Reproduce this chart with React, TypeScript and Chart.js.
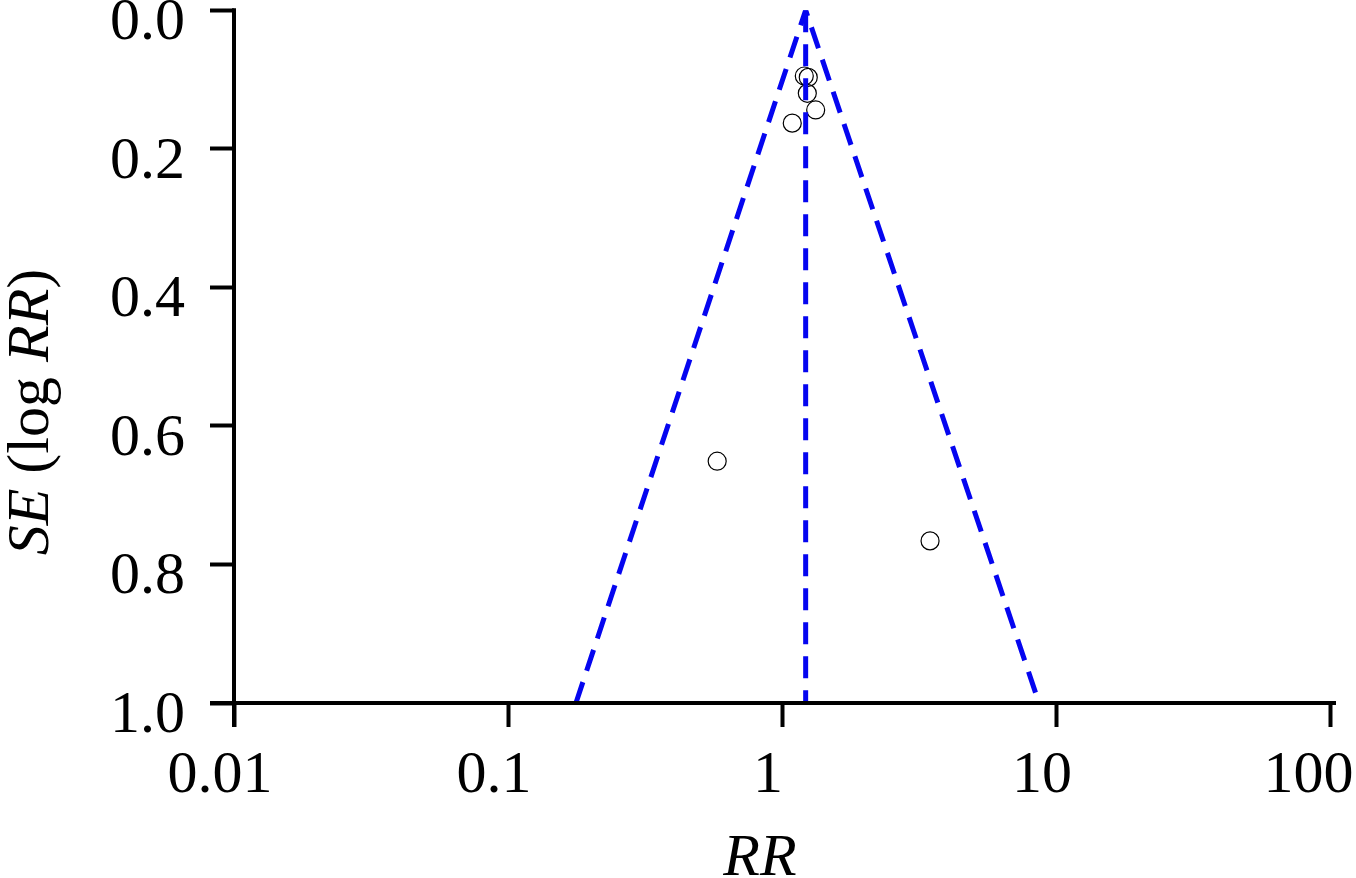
import React, { useEffect, useRef } from 'react';
import { Chart, registerables } from 'chart.js';

Chart.register(...registerables);

// Axis ticks
const xTickValues = [0.01, 0.1, 1, 10, 100];
const xTickLabels = ['0.01', '0.1', '1', '10', '100 '];
const yTickValues = [0, 0.2, 0.4, 0.6, 0.8, 1.0];
const yTickLabels = ['0.0', '0.2', '0.4', '0.6', '0.8', '1.0'];

// Studies (RR, SE of log RR)
const studyRR = [1.206, 1.247, 1.237, 1.327, 1.09, 0.58, 3.47];
const studySE = [0.095, 0.097, 0.12, 0.144, 0.163, 0.651, 0.766];

// Pooled estimate line and 95% funnel limits
const pooledRR = [1.22, 1.22];
const pooledSE = [0, 1.0];
const funnelRR = [0.177, 1.22, 8.67];
const funnelSE = [1.0, 0, 1.0];

const FONT = '"Liberation Serif", serif';
const BLUE = 'rgb(5, 5, 240)';

const axesPlugin = {
  id: 'axesAndTitles',
  afterDraw(chart: any) {
    const ctx = chart.ctx;
    const { left, right, top, bottom } = chart.chartArea;
    const tl = 24;
    ctx.save();
    ctx.strokeStyle = '#000';
    ctx.lineWidth = 4;
    ctx.beginPath();
    ctx.moveTo(left - tl, bottom);
    ctx.lineTo(right + 6, bottom);
    ctx.moveTo(left, top - 2);
    ctx.lineTo(left, bottom + tl);
    ctx.stroke();

    // x title
    ctx.fillStyle = '#000';
    ctx.textBaseline = 'alphabetic';
    ctx.textAlign = 'center';
    ctx.font = `italic 60px ${FONT}`;
    ctx.fillText('RR', 760, 875);

    // y title, rotated, mixed styles
    const parts: [string, boolean][] = [['SE', true], [' (log ', false], ['RR', true], [')', false]];
    const widths = parts.map(([t, it]) => {
      ctx.font = `${it ? 'italic ' : ''}60px ${FONT}`;
      return ctx.measureText(t).width;
    });
    const total = widths.reduce((a, b) => a + b, 0);
    ctx.translate(48, 412);
    ctx.rotate(-Math.PI / 2);
    ctx.textAlign = 'left';
    let x = -total / 2;
    parts.forEach(([t, it], i) => {
      ctx.font = `${it ? 'italic ' : ''}60px ${FONT}`;
      ctx.fillText(t, x, 0);
      x += widths[i];
    });
    ctx.restore();
  },
};

export default function App() {
  const ref = useRef<HTMLCanvasElement | null>(null);

  useEffect(() => {
    document.body.style.margin = '0';
    const canvas = ref.current;
    if (!canvas) return;
    let chart: any = null;
    let cancelled = false;

    const build = () => {
      if (cancelled) return;
      chart = new Chart(canvas, {
        type: 'scatter',
        data: {
          datasets: [
            {
              type: 'line',
              label: 'Pooled',
              data: pooledRR.map((v, i) => ({ x: v, y: pooledSE[i] })),
              borderColor: BLUE,
              borderWidth: 5,
              borderDash: [22, 12],
              pointRadius: 0,
              fill: false,
              order: 0,
            },
            {
              type: 'line',
              label: 'Funnel',
              data: funnelRR.map((v, i) => ({ x: v, y: funnelSE[i] })),
              borderColor: BLUE,
              borderWidth: 5,
              borderDash: [22, 12],
              pointRadius: 0,
              fill: false,
              order: 0,
            },
            {
              label: 'Studies',
              data: studyRR.map((v, i) => ({ x: v, y: studySE[i] })),
              pointRadius: 9,
              pointBorderWidth: 1.2,
              borderColor: '#000',
              backgroundColor: 'rgba(0,0,0,0)',
              pointBackgroundColor: 'rgba(0,0,0,0)',
              pointBorderColor: '#000',
              order: 1,
            },
          ],
        },
        options: {
          responsive: false,
          animation: false,
          layout: { padding: { top: 10, right: 26, left: 0, bottom: 0 } },
          plugins: { legend: { display: false }, tooltip: { enabled: false } },
          scales: {
            x: {
              type: 'logarithmic',
              min: 0.01,
              max: 100,
              afterBuildTicks: (s: any) => {
                s.ticks = xTickValues.map((v) => ({ value: v }));
              },
              afterFit: (s: any) => {
                s.height = 175;
                s.paddingLeft = 0;
                s.paddingRight = 0;
              },
              border: { display: false },
              grid: {
                drawOnChartArea: false,
                drawTicks: true,
                tickLength: 24,
                tickWidth: 4,
                tickColor: '#000',
              },
              ticks: {
                autoSkip: false,
                maxRotation: 0,
                padding: 13,
                labelOffset: -14,
                color: '#000',
                font: { family: FONT, size: 60 },
                callback: (_v: any, i: number) => xTickLabels[i],
              },
            },
            y: {
              type: 'linear',
              reverse: true,
              min: 0,
              max: 1,
              afterBuildTicks: (s: any) => {
                s.ticks = yTickValues.map((v) => ({ value: v }));
              },
              afterFit: (s: any) => {
                s.width = 234;
                s.paddingTop = 0;
                s.paddingBottom = 0;
              },
              border: { display: false },
              grid: {
                drawOnChartArea: false,
                drawTicks: true,
                tickLength: 24,
                tickWidth: 4,
                tickColor: '#000',
              },
              ticks: {
                padding: 25,
                labelOffset: 13,
                color: '#000',
                font: { family: FONT, size: 60 },
                callback: (_v: any, i: number) => yTickLabels[i],
              },
            },
          },
        },
        plugins: [axesPlugin],
      });
    };

    const fonts: any = (document as any).fonts;
    if (fonts && fonts.load) {
      Promise.all([
        fonts.load('60px "Liberation Serif"'),
        fonts.load('italic 60px "Liberation Serif"'),
      ]).then(build, build);
    } else {
      build();
    }
    return () => {
      cancelled = true;
      if (chart) chart.destroy();
    };
  }, []);

  return (
    <div style={{ position: 'fixed', left: 0, top: 0, width: 1356, height: 878, background: '#fff' }}>
      <canvas ref={ref} width={1356} height={878} />
    </div>
  );
}
